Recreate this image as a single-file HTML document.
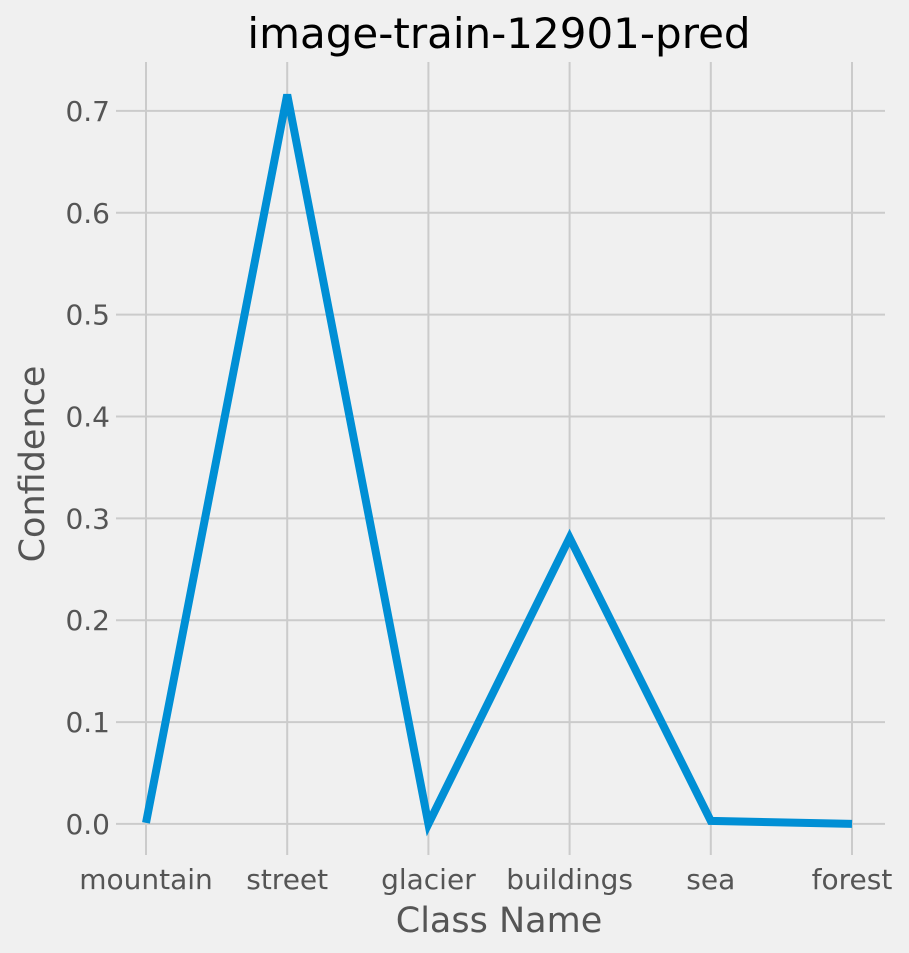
<!DOCTYPE html>
<html><head><meta charset="utf-8"><style>
body{margin:0;background:#f0f0f0;}
svg{display:block;font-family:"DejaVu Sans","Liberation Sans",sans-serif;}
</style></head><body>
<svg id="chart" width="909" height="953">
<rect width="909" height="953" fill="#f0f0f0"/>
<text x="499" y="48" font-size="42" text-anchor="middle" fill="#000">image-train-12901-pred</text>
<text x="499" y="932" font-size="35" text-anchor="middle" fill="#555">Class Name</text>
<text transform="translate(44,464) rotate(-90)" font-size="35" text-anchor="middle" fill="#555">Confidence</text>
<g id="grid"></g><g id="ticks"></g><g id="series"></g>
</svg>
<script>
const categories=["mountain","street","glacier","buildings","sea","forest"];
const values=[0.001,0.716,0.0,0.281,0.003,0.0];
const yTicks=[0.0,0.1,0.2,0.3,0.4,0.5,0.6,0.7];
const yTickLabels=["0.0","0.1","0.2","0.3","0.4","0.5","0.6","0.7"];
const L=116,R=885,T=62,B=855,yMin=-0.0305,yMax=0.748;
const x0=146,x1=852;
function xs(i){return x0+(x1-x0)*i/(categories.length-1);}
function ys(v){return B-(v-yMin)/(yMax-yMin)*(B-T);}
const NS="http://www.w3.org/2000/svg";
const grid=document.getElementById('grid'),ticks=document.getElementById('ticks'),series=document.getElementById('series');
function mk(tag,attrs,parent){const e=document.createElementNS(NS,tag);for(const k in attrs)e.setAttribute(k,attrs[k]);parent.appendChild(e);return e;}
yTicks.forEach((v,i)=>{
  const l=mk('line',{x1:L,x2:R,y1:ys(v),y2:ys(v),stroke:'#cbcbcb','stroke-width':2},grid);
  
  
  const t=mk('text',{x:110,y:ys(v)+10,'font-size':28,'text-anchor':'end',fill:'#555'},ticks);
  t.textContent=yTickLabels[i];
  
  
});
categories.forEach((c,i)=>{
  const l=mk('line',{x1:xs(i),x2:xs(i),y1:T,y2:B,stroke:'#cbcbcb','stroke-width':2},grid);
  
  
  const t=mk('text',{x:xs(i),y:889,'font-size':28,'text-anchor':'middle',fill:'#555'},ticks);
  t.textContent=c;
  
  
});
const pts=values.map((v,i)=>xs(i)+','+ys(v)).join(' ');
const pl=mk('polyline',{points:pts,fill:'none',stroke:'#008fd5','stroke-width':8,'stroke-linejoin':'miter','stroke-linecap':'butt'},series);


</script>
</body></html>
